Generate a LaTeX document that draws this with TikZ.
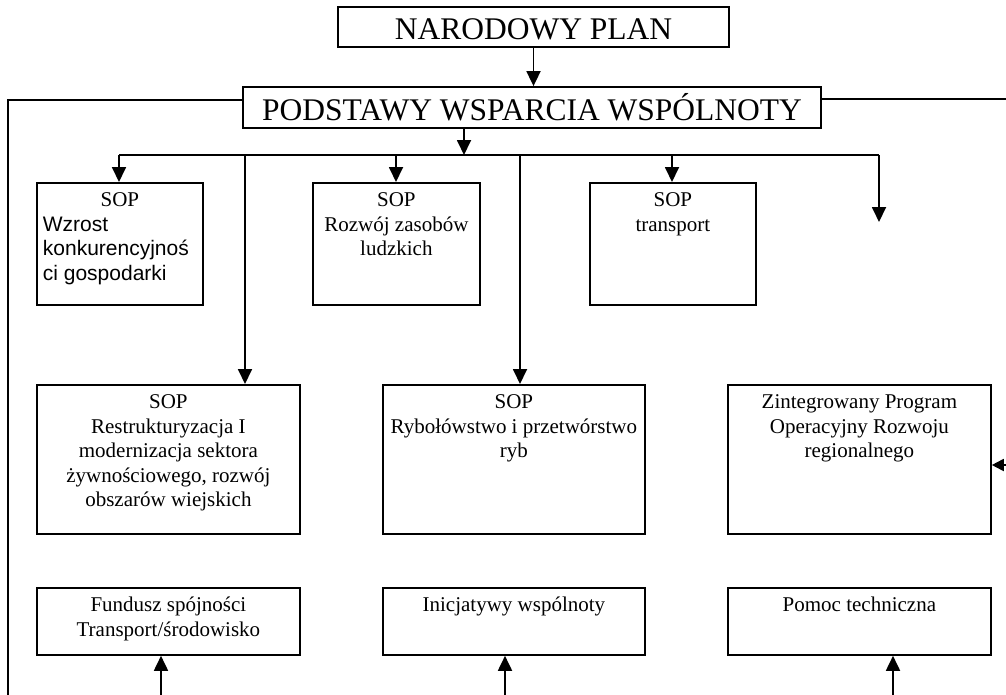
\documentclass[tikz,border=0pt]{standalone}
\usepackage{fontspec}
\setmainfont{Liberation Serif}
\newfontfamily\arialf{Liberation Sans}
\usetikzlibrary{arrows.meta}
\newcommand\bxt[3]{\parbox[t][#2][t]{#1}{\centering\rule{0pt}{24pt}#3}}
\begin{document}
\begin{tikzpicture}[x=1pt,y=-1pt,line width=1.8pt,
  box/.style={draw,line width=1.8pt,inner xsep=1pt,inner ysep=0pt,anchor=north west,font=\fontsize{21}{24.5}\selectfont},
  big/.style={draw,line width=1.8pt,inner sep=0pt,font=\fontsize{31.5}{36}\selectfont,text height=25pt,text depth=0pt},
  arr/.style={-{Triangle[width=14pt,length=15pt]}},
  arrs/.style={-{Triangle[width=12pt,length=12pt]}}]
\useasboundingbox (0,0) rectangle (1006,694);
\clip (0,0) rectangle (1006,694);
% top boxes
\node[big,minimum width=391pt,minimum height=40pt] (narod) at (533.5,27) {NARODOWY PLAN};
\node[big,minimum width=578pt,minimum height=41pt] (pod) at (532,107.5) {PODSTAWY WSPARCIA WSPÓLNOTY};
% row 1
\node[box,inner xsep=6pt] (b1) at (36,182) {\parbox[t][122pt][t]{154pt}{\centering\rule{0pt}{24pt}SOP\par\raggedright\arialf Wzrost\\konkurencyjnoś\\ci gospodarki}};
\node[box] (b2) at (312,182) {\bxt{165pt}{122pt}{SOP\\Rozwój zasobów\\ludzkich}};
\node[box] (b3) at (589,182) {\bxt{164pt}{122pt}{SOP\\transport}};
% row 2
\node[box] (restr) at (36,384) {\bxt{261pt}{149pt}{SOP\\Restrukturyzacja I\\modernizacja sektora\\żywnościowego, rozwój\\obszarów wiejskich}};
\node[box] (ryb) at (382,384) {\bxt{260pt}{149pt}{SOP\\Rybołówstwo i przetwórstwo\\ryb}};
\node[box] (zint) at (727,384) {\bxt{261pt}{149pt}{Zintegrowany Program\\Operacyjny Rozwoju\\regionalnego}};
% row 3
\node[box] (fund) at (36,587) {\bxt{261pt}{67pt}{Fundusz spójności\\Transport/środowisko}};
\node[box] (inic) at (382,587) {\bxt{260pt}{67pt}{Inicjatywy wspólnoty}};
\node[box] (pomoc) at (727,587) {\bxt{261pt}{67pt}{Pomoc techniczna}};
% coordinates
\coordinate (busL) at (119,155);
\coordinate (busA) at (464,155);
\coordinate (busR) at (879,155);
\coordinate (busC) at (245,155);
\coordinate (busD) at (520,155);
\coordinate (busB2) at (396,155);
\coordinate (busB3) at (672,155);
\coordinate (freeEnd) at (879,222);
\coordinate (lc) at (8,100);
\coordinate (botL) at (8,720);
\coordinate (f1) at (161,720);
\coordinate (f2) at (505,720);
\coordinate (f3) at (893,720);
\coordinate (r1) at (1016,99);
\coordinate (r2) at (1016,465);
% connectors
\draw[arr] (narod.south) -- (narod.south |- pod.north);
\draw[arr] (pod.south -| busA) -- (busA);
\draw (busL) -- (busR);
\draw[arr] (busL) -- (busL |- b1.north);
\draw[arr] (busB2) -- (busB2 |- b2.north);
\draw[arr] (busB3) -- (busB3 |- b3.north);
\draw[arr] (busR) -- (freeEnd);
\draw[arr] (busC) -- (busC |- restr.north);
\draw[arr] (busD) -- (busD |- ryb.north);
\draw (pod.west |- lc) -- (lc) -- (botL) -- (f3);
\draw[arr] (f1) -- (f1 |- fund.south);
\draw[arr] (f2) -- (f2 |- inic.south);
\draw[arr] (f3) -- (f3 |- pomoc.south);
\draw (pod.east |- r1) -- (r1) -- (r2);
\draw[arrs] (r2) -- (r2 -| zint.east);
\end{tikzpicture}
\end{document}
